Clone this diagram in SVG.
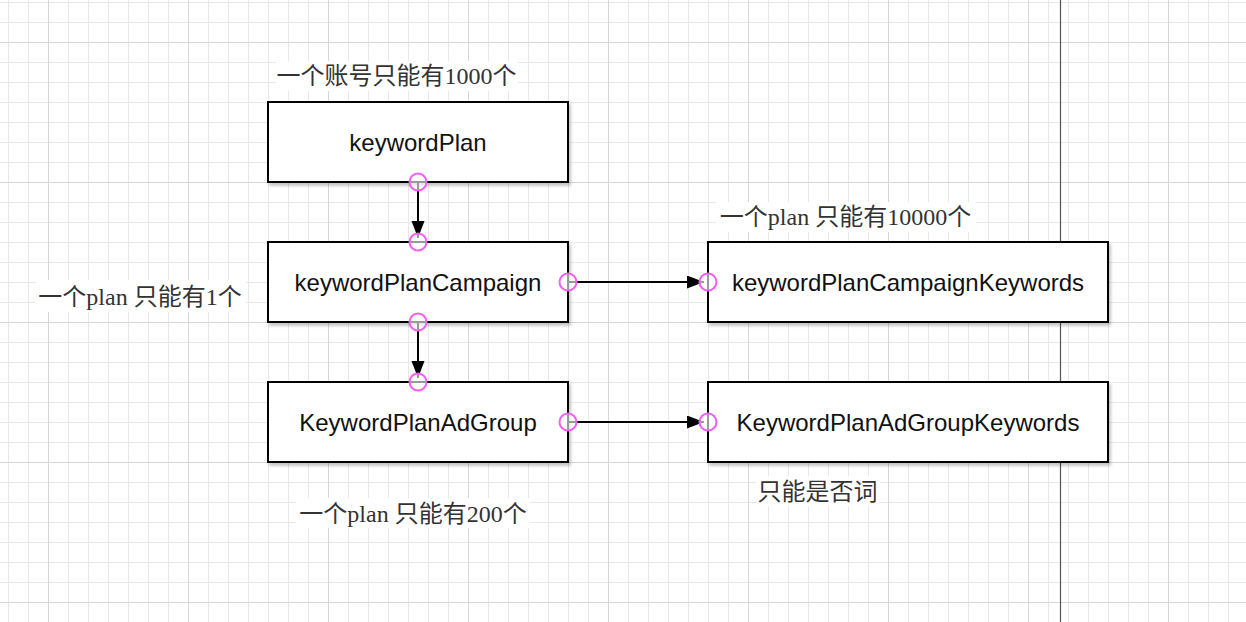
<svg xmlns="http://www.w3.org/2000/svg" width="1246" height="622" viewBox="0 0 1246 622">
<style>
.box{fill:#fff;stroke:#000;stroke-width:2;filter:url(#sh)}
.bt{font-family:"Liberation Sans",Arial,Helvetica,sans-serif;font-size:24px;fill:#111;text-anchor:middle}
.lt{font-family:"Liberation Serif","Noto Sans CJK SC",serif;font-size:24px;fill:#333;text-anchor:middle}
.lbg{fill:#fff}
.edge{stroke:#000;stroke-width:2;fill:none;marker-end:url(#arr)}
.pt{fill:#fff;fill-opacity:0.6;stroke:#f060f0;stroke-width:2}
</style>
<defs>
<pattern id="minor" x="8" y="2" width="20" height="20" patternUnits="userSpaceOnUse">
<path d="M0 0.5H20M0.5 0V20" stroke="#e8e8e8" stroke-width="1" fill="none"/>
</pattern>
<pattern id="major" x="48" y="42" width="140" height="140" patternUnits="userSpaceOnUse">
<path d="M0 0.5H140M0.5 0V140" stroke="#d6d6d6" stroke-width="1" fill="none"/>
</pattern>
<filter id="sh" x="-10%" y="-10%" width="130%" height="140%">
<feDropShadow dx="2" dy="3" stdDeviation="1.5" flood-color="#000" flood-opacity="0.22"/>
</filter>
<marker id="arr" markerUnits="userSpaceOnUse" markerWidth="18" markerHeight="14" refX="17" refY="6.5" orient="auto">
<path d="M0 0L17 6.5L0 13Z" fill="#000"/>
</marker>
</defs>
<rect width="1246" height="622" fill="#fff"/>
<rect width="1246" height="622" fill="url(#minor)"/>
<rect width="1246" height="622" fill="url(#major)"/>
<line x1="1060.5" y1="0" x2="1060.5" y2="622" stroke="#555" stroke-width="1.2"/>

<g id="label-1000">
<rect class="lbg" x="276" y="61" width="242" height="30"/>
<text class="lt" x="396.5" y="84">一个账号只能有1000个</text>
</g>
<g id="label-10000">
<rect class="lbg" x="716" y="202" width="260" height="30"/>
<text class="lt" x="845.5" y="225">一个plan 只能有10000个</text>
</g>
<g id="label-1">
<rect class="lbg" x="36" y="280" width="210" height="32"/>
<text class="lt" x="140" y="305">一个plan 只能有1个</text>
</g>
<g id="label-200">
<rect class="lbg" x="296" y="498" width="234" height="30"/>
<text class="lt" x="413" y="522">一个plan 只能有200个</text>
</g>
<g id="label-neg">
<rect class="lbg" x="756" y="476" width="124" height="30"/>
<text class="lt" x="817.5" y="500">只能是否词</text>
</g>

<g id="keywordPlan">
<rect class="box" x="268" y="102" width="300" height="80"/>
<text class="bt" x="418" y="150.5">keywordPlan</text>
</g>
<g id="keywordPlanCampaign">
<rect class="box" x="268" y="242" width="300" height="80"/>
<text class="bt" x="418" y="290.5">keywordPlanCampaign</text>
</g>
<g id="KeywordPlanAdGroup">
<rect class="box" x="268" y="382" width="300" height="80"/>
<text class="bt" x="418" y="430.5">KeywordPlanAdGroup</text>
</g>
<g id="keywordPlanCampaignKeywords">
<rect class="box" x="708" y="242" width="400" height="80"/>
<text class="bt" x="908" y="290.5">keywordPlanCampaignKeywords</text>
</g>
<g id="KeywordPlanAdGroupKeywords">
<rect class="box" x="708" y="382" width="400" height="80"/>
<text class="bt" x="908" y="430.5">KeywordPlanAdGroupKeywords</text>
</g>

<g id="connectors">
<line class="edge" x1="418" y1="182" x2="418" y2="238"/>
<line class="edge" x1="418" y1="322" x2="418" y2="378"/>
<line class="edge" x1="568" y1="282" x2="704" y2="282"/>
<line class="edge" x1="568" y1="422" x2="704" y2="422"/>
<circle class="pt" cx="418" cy="182" r="8.5"/>
<circle class="pt" cx="418" cy="242" r="8.5"/>
<circle class="pt" cx="418" cy="322" r="8.5"/>
<circle class="pt" cx="418" cy="382" r="8.5"/>
<circle class="pt" cx="568" cy="282" r="8.5"/>
<circle class="pt" cx="708" cy="282" r="8.5"/>
<circle class="pt" cx="568" cy="422" r="8.5"/>
<circle class="pt" cx="708" cy="422" r="8.5"/>
</g>
</svg>
